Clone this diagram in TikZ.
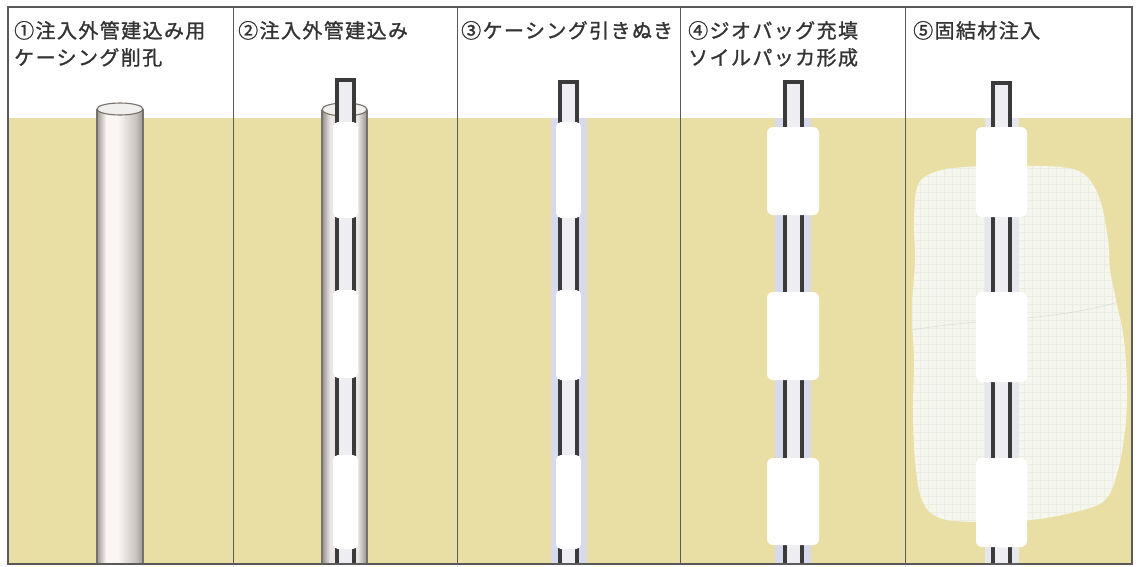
\documentclass[tikz,border=0pt]{standalone}
\usepackage{fontspec}
\newfontfamily\jp[LetterSpace=7, FakeBold=1.2]{Noto Sans CJK JP}
\definecolor{soil}{HTML}{E9DFA4}
\definecolor{txt}{HTML}{333333}
\definecolor{framegray}{HTML}{5A5A5A}
\definecolor{pipedark}{HTML}{3A3A3A}
\definecolor{pipein}{HTML}{EEEEF2}
\definecolor{halo}{HTML}{D9D9EC}
\definecolor{cOneDark}{HTML}{9C9691}
\definecolor{cOneMid}{HTML}{C9C3BF}
\definecolor{cOneLight}{HTML}{FAF6F4}
\definecolor{cTwoDark}{HTML}{948E89}
\definecolor{cTwoLight}{HTML}{E9E6E3}
\definecolor{casingedge}{HTML}{77716C}
\definecolor{opening}{HTML}{F1EFED}
\definecolor{grout}{HTML}{F5F7EF}
\definecolor{groutgrid}{HTML}{EAEDE0}

\tikzset{
  lbl/.style={anchor=base west, inner sep=0pt, text=txt,
              font=\jp\fontsize{20}{24}\selectfont},
  frameline/.style={draw=framegray, line width=1.4pt},
  divider/.style={draw=framegray, line width=1pt},
  wall/.style={draw=pipedark, line width=3.2pt, line join=miter},
  sleeve/.style={fill=white, rounded corners=5pt},
  packer/.style={fill=white, rounded corners=6pt},
  rim/.style={draw=casingedge, line width=1.1pt},
}

% injection pipe: #1 = centre x, #2 = top y
\newcommand\injpipe[2]{%
  \fill[pipein] ({#1-8.5},#2) rectangle ({#1+8.5},564);
  \draw[wall] ({#1-8.5},564) -- ({#1-8.5},#2) -- ({#1+8.5},#2) -- ({#1+8.5},564);
}

\begin{document}
\begin{tikzpicture}[x=1pt,y=-1pt]
\useasboundingbox (0,0) rectangle (1138,566);
\fill[white] (0,0) rectangle (1138,566);

% ground
\fill[soil] (8,118) rectangle (1132,564);

% ---- step 1: casing bored into the ground
\shade[left color=cOneDark, right color=cOneLight] (97,109) rectangle (106,564);
\fill[cOneLight] (106,109) rectangle (118,564);
\shade[left color=cOneLight, right color=cOneMid] (118,109) rectangle (136,564);
\shade[left color=cOneMid, right color=cOneDark] (136,109) rectangle (143,564);
\draw[rim] (97,109) -- (97,564) (143,109) -- (143,564);
\draw[rim, fill=opening] (120,109) ellipse [x radius=23pt, y radius=6pt];

% ---- step 2: outer injection pipe set inside the casing
\shade[left color=cTwoDark, right color=cTwoLight] (322,109.5) rectangle (330,564);
\fill[cTwoLight] (330,109.5) rectangle (358,564);
\shade[left color=cTwoLight, right color=cTwoDark] (358,109.5) rectangle (367,564);
\draw[rim] (322,109.5) -- (322,564) (367,109.5) -- (367,564);
\draw[rim, fill=opening] (344.5,109.5) ellipse [x radius=22.5pt, y radius=6.5pt];
\injpipe{345.5}{80}
\foreach \a/\b in {122/218, 290/378, 455/549}
  \fill[sleeve] (333,\a) rectangle (358,\b);

% ---- step 3: casing withdrawn
\fill[halo] (551,118) rectangle (587,564);
\injpipe{568.5}{82}
\foreach \a/\b in {122/218, 290/380, 455/549}
  \fill[sleeve] (556,\a) rectangle (581,\b);

% ---- step 4: geobags filled, soil packers formed
\fill[halo] (775,118) rectangle (811,564);
\injpipe{793.5}{82}
\foreach \a/\b in {127/215, 292/380, 458/545}
  \fill[packer] (767,\a) rectangle (819,\b);

% ---- step 5: grout injected
\begin{scope}
  \path[fill=grout] plot[smooth cycle, tension=0.6] coordinates {
    (918,185) (935,172) (965,167) (1010,166) (1060,167) (1085,175)
    (1100,200) (1108,240) (1110,270) (1116,300) (1124,340) (1127,390)
    (1125,430) (1118,470) (1105,500) (1075,512) (1030,520) (980,522)
    (940,518) (922,500) (915,460) (913,410) (914,360) (912,310)
    (915,260) (914,220)};
  \clip plot[smooth cycle, tension=0.6] coordinates {
    (918,185) (935,172) (965,167) (1010,166) (1060,167) (1085,175)
    (1100,200) (1108,240) (1110,270) (1116,300) (1124,340) (1127,390)
    (1125,430) (1118,470) (1105,500) (1075,512) (1030,520) (980,522)
    (940,518) (922,500) (915,460) (913,410) (914,360) (912,310)
    (915,260) (914,220)};
  \draw[groutgrid, line width=0.7pt] (905,160) grid[step=8pt] (1135,530);
  \draw[groutgrid!85!black, line width=0.6pt, opacity=0.5]
    (912,330) .. controls (980,318) and (1050,322) .. (1118,302);
\end{scope}
\fill[halo!55!grout] (985,118) rectangle (1019,564);
\injpipe{1001.5}{83}
\foreach \a/\b in {127/217, 292/382, 458/547}
  \fill[packer] (976,\a) rectangle (1027,\b);

% frame and panel dividers
\draw[frameline] (8,7) rectangle (1132,564);
\foreach \x in {233,457,680,905}
  \draw[divider] (\x,7) -- (\x,564);

% step captions
\node[lbl] (capOneA) at (14,38) {①注入外管建込み用};
\node[lbl] (capOneB) at (14,65) {ケーシング削孔};
\node[lbl] (capTwo) at (238,38) {②注入外管建込み};
\node[lbl] (capThree) at (461,38) {③ケーシング引きぬき};
\node[lbl] (capFourA) at (688,38) {④ジオバッグ充填};
\node[lbl] (capFourB) at (688,65) {ソイルパッカ形成};
\node[lbl] (capFive) at (913,38) {⑤固結材注入};
\end{tikzpicture}
\end{document}
